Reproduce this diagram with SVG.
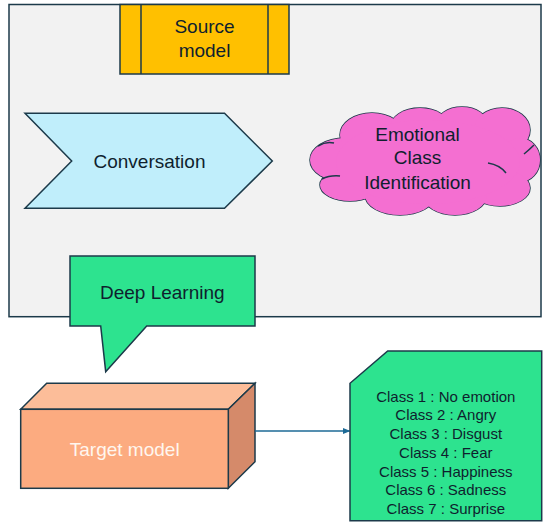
<svg xmlns="http://www.w3.org/2000/svg" width="550" height="532" viewBox="0 0 550 532">
<defs>
<style>
.ln{stroke:#1c3a4a;stroke-width:1.5;stroke-linejoin:miter}
.t{font-family:"Liberation Sans",Arial,sans-serif;font-size:19px;fill:#0f1f2e;text-anchor:middle}
.s{font-size:15px}
.w{fill:#fff6ee}
.cl{fill:#f46fd1}
</style>
<marker id="ah" viewBox="0 0 8 8" refX="7" refY="4" markerWidth="8" markerHeight="8" markerUnits="userSpaceOnUse" orient="auto">
<path d="M0,0.8 L8,4 L0,7.2 Z" fill="#1d6a96"/>
</marker>
</defs>
<rect width="550" height="532" fill="#ffffff"/>
<g id="frame">
<rect x="9" y="4.5" width="532" height="312.2" fill="#f2f2f2" class="ln"/>
</g>
<g id="source-model">
<rect x="120" y="4.5" width="169" height="69.5" fill="#ffc000" class="ln"/>
<line x1="141" y1="4.5" x2="141" y2="74" class="ln"/>
<line x1="268" y1="4.5" x2="268" y2="74" class="ln"/>
<text class="t" x="204.5" y="33.3">Source</text>
<text class="t" x="204.5" y="57.3">model</text>
</g>
<g id="conversation">
<polygon points="25,113.3 224.5,113.3 272.3,161 224.5,208.3 25,208.3 71.7,161" fill="#c0eefb" class="ln"/>
<text class="t" x="149.5" y="167.7">Conversation</text>
</g>
<g id="emotional-class">
<g class="ln">
<ellipse cx="345" cy="160" rx="35" ry="22" class="cl"/>
<ellipse cx="372" cy="135" rx="32" ry="22" class="cl"/>
<ellipse cx="420" cy="128" rx="30" ry="20" class="cl"/>
<ellipse cx="462" cy="125" rx="26" ry="18" class="cl"/>
<ellipse cx="502" cy="130" rx="28" ry="22" class="cl"/>
<ellipse cx="520" cy="160" rx="20" ry="22" class="cl"/>
<ellipse cx="500" cy="188" rx="30" ry="18" class="cl"/>
<ellipse cx="455" cy="195" rx="32" ry="20" class="cl"/>
<ellipse cx="400" cy="195" rx="35" ry="20" class="cl"/>
<ellipse cx="350" cy="185" rx="30" ry="16" class="cl"/>
</g>
<g class="cl">
<ellipse cx="345" cy="160" rx="35" ry="22"/>
<ellipse cx="372" cy="135" rx="32" ry="22"/>
<ellipse cx="420" cy="128" rx="30" ry="20"/>
<ellipse cx="462" cy="125" rx="26" ry="18"/>
<ellipse cx="502" cy="130" rx="28" ry="22"/>
<ellipse cx="520" cy="160" rx="20" ry="22"/>
<ellipse cx="500" cy="188" rx="30" ry="18"/>
<ellipse cx="455" cy="195" rx="32" ry="20"/>
<ellipse cx="400" cy="195" rx="35" ry="20"/>
<ellipse cx="350" cy="185" rx="30" ry="16"/>
<ellipse cx="428" cy="162" rx="92" ry="42"/>
</g>
<g fill="none" class="ln">
<path d="M318,146 Q326,141 334,143"/>
<path d="M534,145 Q529,150 524,154"/>
<path d="M488,163 Q500,165 506,173"/>
<path d="M322,179 Q330,175 340,176"/>
</g>
<text class="t" x="417.5" y="140.7">Emotional</text>
<text class="t" x="417.5" y="164">Class</text>
<text class="t" x="417.5" y="189">Identification</text>
</g>
<g id="deep-learning">
<path d="M70,256 H255 V326 H146.7 L105.7,371.7 L100.7,326 H70 Z" fill="#2de38f" class="ln"/>
<text class="t" x="162.3" y="299.3">Deep Learning</text>
</g>
<g id="target-model">
<polygon points="20.7,409.3 46.7,383.3 255,383.3 228.3,409.3" fill="#fcbd99" class="ln"/>
<polygon points="228.3,409.3 255,383.3 255,461.7 228.3,488.3" fill="#d58a6a" class="ln"/>
<rect x="20.7" y="409.3" width="207.6" height="79" fill="#fcab80" class="ln"/>
<text class="t w" x="124.7" y="456">Target model</text>
</g>
<g id="connectors">
<line x1="255" y1="431" x2="349.5" y2="431" stroke="#1d6a96" stroke-width="1.3" marker-end="url(#ah)"/>
</g>
<g id="classes">
<path d="M387.7,351 H541.7 V520.7 H350 V383.3 Z" fill="#2de38f" class="ln"/>
<text class="t s" x="445.8" y="401.7">Class 1 : No emotion</text>
<text class="t s" x="445.8" y="420.4">Class 2 : Angry</text>
<text class="t s" x="445.8" y="439.1">Class 3 : Disgust</text>
<text class="t s" x="445.8" y="457.8">Class 4 : Fear</text>
<text class="t s" x="445.8" y="476.5">Class 5 : Happiness</text>
<text class="t s" x="445.8" y="495.2">Class 6 : Sadness</text>
<text class="t s" x="445.8" y="513.9">Class 7 : Surprise</text>
</g>
</svg>
